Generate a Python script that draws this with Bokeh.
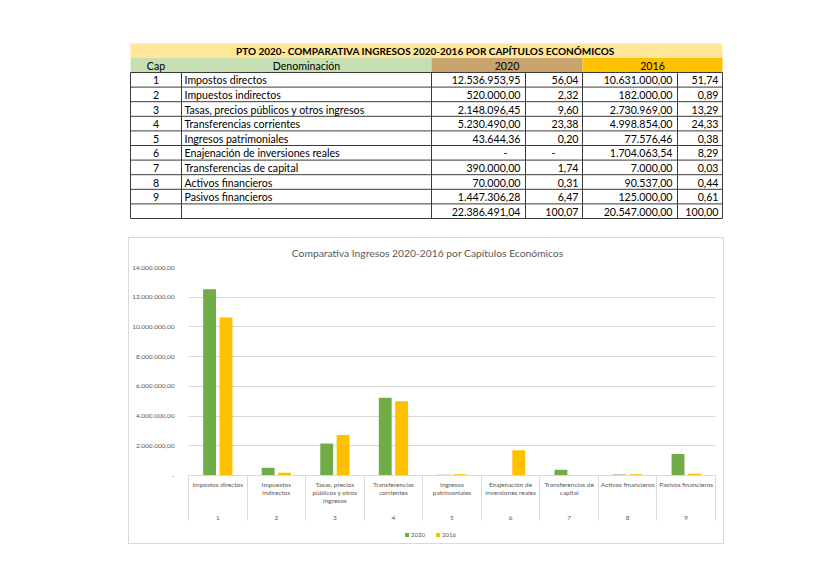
from bokeh.plotting import figure
from bokeh.models import (Range1d, ColumnDataSource, FixedTicker,
                          Legend, LegendItem, Spacer)
from bokeh.layouts import column, row
from bokeh.transform import dodge
from bokeh.core.properties import value
from bokeh.embed import file_html
from bokeh.resources import INLINE

# ---------------- data ----------------
table_title = "PTO 2020- COMPARATIVA  INGRESOS 2020-2016 POR CAPÍTULOS ECONÓMICOS"
chart_title = "Comparativa Ingresos 2020-2016 por Capítulos Económicos"
header_cap = "Cap"
header_name = "Denominación"
series = ["2020", "2016"]
caps = ["1", "2", "3", "4", "5", "6", "7", "8", "9"]
names = ["Impostos directos", "Impuestos indirectos",
         "Tasas, precios públicos y otros ingresos", "Transferencias corrientes",
         "Ingresos patrimoniales", "Enajenación de inversiones reales",
         "Transferencias de capital", "Activos financieros", "Pasivos financieros"]
chart_labels = [["Impostos directos"], ["Impuestos", "indirectos"],
                ["Tasas, precios", "públicos y otros", "ingresos"],
                ["Transferencias", "corrientes"], ["Ingresos", "patrimoniales"],
                ["Enajenación de", "inversiones reales"], ["Transferencias de", "capital"],
                ["Activos financieros"], ["Pasivos financieros"]]
amount_2020 = [12536953.95, 520000.00, 2148096.45, 5230490.00, 43644.36, None,
               390000.00, 70000.00, 1447306.28]
pct_2020 = [56.04, 2.32, 9.60, 23.38, 0.20, None, 1.74, 0.31, 6.47]
amount_2016 = [10631000.00, 182000.00, 2730969.00, 4998854.00, 77576.46, 1704063.54,
               7000.00, 90537.00, 125000.00]
pct_2016 = [51.74, 0.89, 13.29, 24.33, 0.38, 8.29, 0.03, 0.44, 0.61]
total_2020 = 22386491.04
total_pct_2020 = 100.07
total_2016 = 20547000.00
total_pct_2016 = 100.00
y_ticks = [0, 2000000, 4000000, 6000000, 8000000, 10000000, 12000000, 14000000]
y_tick_labels = ["-", "2.000.000,00", "4.000.000,00", "6.000.000,00", "8.000.000,00",
                 "10.000.000,00", "12.000.000,00", "14.000.000,00"]

GREEN = "#70AD47"
YELLOW = "#FFC000"
BOXLINE = "#D9D9D9"
GREYTXT = "#595959"
FONT = "Lato"


def fmt(v):
    if v is None:
        return "-"
    s = f"{v:,.2f}"
    return s.replace(",", "X").replace(".", ",").replace("X", ".")


def plain_fig(w, h, xr, yr, left=0, right=0):
    f = figure(width=w, height=h, x_range=xr, y_range=yr,
               output_backend="svg", toolbar_location=None, min_border=0)
    f.min_border_left = left
    f.min_border_right = right
    f.axis.visible = False
    f.grid.visible = False
    f.outline_line_color = None
    return f


# ---------------- table figure ----------------
W = 813
TH = 237
t = plain_fig(W, TH, Range1d(0, W), Range1d(TH, 0))

xe = [130, 181, 431, 525, 582, 677, 722]
title_top, head_top, body_top, rh = 43, 57.5, 72, 14.6
nrows = len(caps) + 1

t.quad(left=[xe[0]], right=[xe[-1]], top=[title_top], bottom=[head_top],
       fill_color="#FFE699", line_color=None)
t.quad(left=[xe[0], xe[2], xe[4]], right=[xe[2], xe[4], xe[6]],
       top=[head_top] * 3, bottom=[body_top] * 3,
       fill_color=["#C6E0B4", "#C9A46C", YELLOW], line_color=None)

hy = [body_top + i * rh for i in range(nrows + 1)]
t.segment(x0=[xe[0]] * len(hy), x1=[xe[-1]] * len(hy), y0=hy, y1=hy,
          line_color="#3a3a3a", line_width=1)
t.segment(x0=xe, x1=xe, y0=[body_top] * len(xe), y1=[hy[-1]] * len(xe),
          line_color="#3a3a3a", line_width=1)

tx, ty, tt, ta, tb, ts = [], [], [], [], [], []


def cell(x, y, s, a, b=False):
    tx.append(x); ty.append(y); tt.append(s); ta.append(a)
    tb.append("bold" if b else "normal"); ts.append("10px" if b else "10.6px")


cell((xe[0] + xe[-1]) / 2, (title_top + head_top) / 2 + 0.5, table_title, "center", True)
cell((xe[0] + xe[1]) / 2, (head_top + body_top) / 2 + 0.5, header_cap, "center")
cell((xe[1] + xe[2]) / 2, (head_top + body_top) / 2 + 0.5, header_name, "center")
cell((xe[2] + xe[4]) / 2, (head_top + body_top) / 2 + 0.5, series[0], "center")
cell((xe[4] + xe[6]) / 2, (head_top + body_top) / 2 + 0.5, series[1], "center")

for i in range(len(caps)):
    yc = body_top + (i + 0.5) * rh + 0.5
    cell((xe[0] + xe[1]) / 2, yc, caps[i], "center")
    cell(xe[1] + 3, yc, names[i], "left")
    if amount_2020[i] is None:
        cell(xe[3] - 20, yc, "-", "center")
    else:
        cell(xe[3] - 5, yc, fmt(amount_2020[i]), "right")
    if pct_2020[i] is None:
        cell(xe[4] - 29, yc, "-", "center")
    else:
        cell(xe[4] - 4, yc, fmt(pct_2020[i]), "right")
    cell(xe[5] - 5, yc, fmt(amount_2016[i]), "right")
    cell(xe[6] - 4, yc, fmt(pct_2016[i]), "right")

yc = body_top + (len(caps) + 0.5) * rh + 0.5
cell(xe[3] - 5, yc, fmt(total_2020), "right")
cell(xe[4] - 4, yc, fmt(total_pct_2020), "right")
cell(xe[5] - 5, yc, fmt(total_2016), "right")
cell(xe[6] - 4, yc, fmt(total_pct_2016), "right")

tsrc = ColumnDataSource(dict(x=tx, y=ty, text=tt, align=ta, weight=tb, size=ts))
t.text(x="x", y="y", text="text", text_align="align", text_font_style="weight",
       text_font_size="size", text_baseline="middle", text_font=value(FONT),
       text_color="black", source=tsrc)

# ---------------- chart geometry (page pixels) ----------------
CW = 594
BL, BR = 57, 8                    # frame insets inside the chart box
FX0, FX1 = 129 + BL, 129 + CW - BR  # frame left/right in page pixels
TTH, CH, LH = 22, 264, 19

# ---------------- chart title strip ----------------
tf = plain_fig(CW, TTH, Range1d(FX0, FX1), Range1d(238 + TTH, 238), BL, BR)
tf.text(x=[426], y=[252], text=[chart_title], text_align="center",
        text_baseline="middle", text_font=value(FONT), text_font_size="10.3px",
        text_color=GREYTXT)

# ---------------- chart figure ----------------
n = len(caps)
idx = list(range(n))
p = figure(width=CW, height=CH,
           x_range=Range1d(-0.5, n - 0.5),
           y_range=Range1d(0, 14000000),
           output_backend="svg", toolbar_location=None,
           min_border_left=BL, min_border_right=BR, min_border_top=7, min_border_bottom=47)
p.outline_line_color = None

src = ColumnDataSource(dict(
    x=idx,
    v2020=[v if v is not None else 0 for v in amount_2020],
    v2016=amount_2016,
))
p.vbar(x=dodge("x", -0.14), top="v2020", width=0.22,
       source=src, fill_color=GREEN, line_color=None)
p.vbar(x=dodge("x", 0.14), top="v2016", width=0.22,
       source=src, fill_color=YELLOW, line_color=None)

p.xgrid.visible = False
p.ygrid.grid_line_color = "#D9D9D9"
p.ygrid.ticker = FixedTicker(ticks=y_ticks)

p.yaxis.ticker = FixedTicker(ticks=y_ticks)
p.yaxis.major_label_overrides = {tk: lb for tk, lb in zip(y_ticks, y_tick_labels)}
p.yaxis.axis_line_color = None
p.yaxis.major_tick_line_color = None
p.yaxis.minor_tick_line_color = None
p.yaxis.major_label_standoff = 8
p.yaxis.major_label_text_font = FONT
p.yaxis.major_label_text_font_size = "6.5px"
p.yaxis.major_label_text_color = GREYTXT

# category labels: name lines, padding lines, then the chapter number
xlabels = {}
for i in idx:
    lines = list(chart_labels[i]) + [" "] * (4 - len(chart_labels[i])) + [caps[i]]
    xlabels[i] = "\n".join(lines)

xa = p.xaxis[0]
xa.ticker = FixedTicker(ticks=idx, minor_ticks=[i - 0.5 for i in range(n + 1)])
xa.major_label_overrides = xlabels
xa.axis_line_color = "#D9D9D9"
xa.major_tick_line_color = None
xa.major_tick_out = 0
xa.major_tick_in = 0
xa.minor_tick_line_color = "#D9D9D9"
xa.minor_tick_out = 45
xa.minor_tick_in = 0
xa.major_label_text_font = FONT
xa.major_label_text_font_size = "6.5px"
xa.major_label_text_color = GREYTXT
xa.major_label_standoff = -40

# ---------------- legend strip ----------------
lf = plain_fig(CW, LH, Range1d(FX0, FX1), Range1d(0, 1), BL, BR)
# zero-height proxy bars: only their colours are used by the legend
g1 = lf.vbar(x=[FX0], top=[0], bottom=[0], width=1, fill_color=GREEN, line_color=None)
g2 = lf.vbar(x=[FX0], top=[0], bottom=[0], width=1, fill_color=YELLOW, line_color=None)
legend = Legend(items=[LegendItem(label=series[0], renderers=[g1]),
                       LegendItem(label=series[1], renderers=[g2])],
                orientation="horizontal", location=(216, 5),
                label_text_font=FONT, label_text_font_size="6px",
                label_text_color=GREYTXT, glyph_width=5, glyph_height=5,
                label_standoff=2, spacing=4, padding=0, margin=0,
                border_line_color=None, background_fill_alpha=0, label_height=8)
lf.add_layout(legend)


def line_spacer(w, h):
    return Spacer(width=w, height=h, styles={"background-color": BOXLINE})


inner = column(tf, p, lf)
layout = column(
    t,
    row(Spacer(width=128, height=1), line_spacer(CW + 2, 1)),
    row(Spacer(width=128, height=TTH + CH + LH), line_spacer(1, TTH + CH + LH), inner,
        line_spacer(1, TTH + CH + LH)),
    row(Spacer(width=128, height=1), line_spacer(CW + 2, 1)),
)
open("out.html", "w").write(file_html(layout, INLINE))
